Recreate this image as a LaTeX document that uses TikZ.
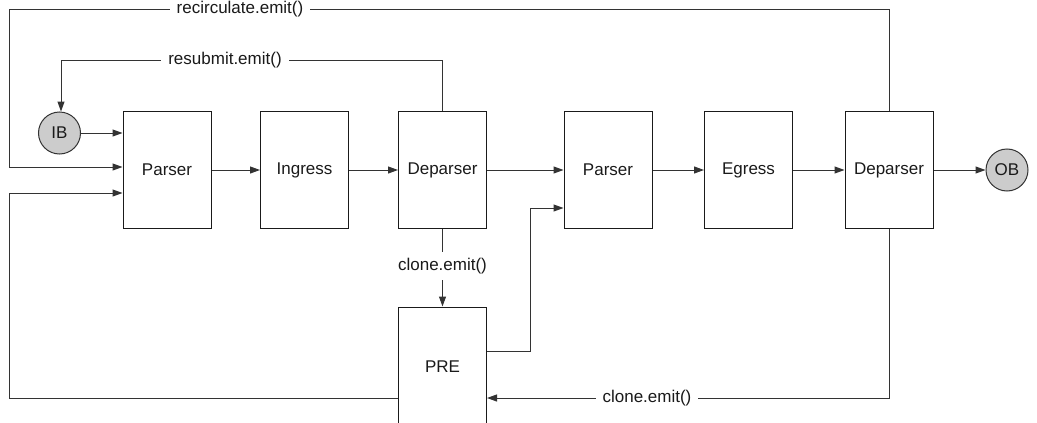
\documentclass[tikz,border=0pt]{standalone}
\usepackage{fontspec}
\setmainfont{Liberation Sans}
\usetikzlibrary{arrows.meta}
\definecolor{wire}{HTML}{333333}
\definecolor{ink}{HTML}{1A1A1A}
\definecolor{bubble}{HTML}{CCCCCC}
\begin{document}
\begin{tikzpicture}[x=1pt,y=-1pt,
  font=\fontsize{17}{20}\selectfont, text=ink,
  stage/.style={draw=ink, line width=1pt, minimum width=88pt, minimum height=117pt, inner sep=0pt},
  port/.style={circle, draw=wire, fill=bubble, line width=1pt, minimum size=42pt, inner sep=0pt},
  wireline/.style={draw=wire, line width=1pt},
  flow/.style={wireline, -{Triangle[length=10pt,width=7pt]}},
  tag/.style={fill=white, inner xsep=7pt, inner ysep=4pt}]
\useasboundingbox (0,0) rectangle (1037,423);

% pipeline stages
\node[stage] (p1)  at (167,170)   {Parser};
\node[stage] (ing) at (304.5,170) {Ingress};
\node[stage] (d1)  at (442.5,170) {Deparser};
\node[stage] (p2)  at (608,170)   {Parser};
\node[stage] (eg)  at (748.5,170) {Egress};
\node[stage] (d2)  at (889,170)   {Deparser};
\node[stage, minimum height=120pt] (pre) at (442.5,367) {PRE};

% input / output buffers
\node[port] (ib) at (59.5,133) {IB};
\node[port] (ob) at (1007,170) {OB};

% routing corners
\coordinate (rcTL) at (9,9);
\coordinate (rsTL) at (61,60);
\coordinate (pbL)  at (9,398);
\coordinate (preJog) at (530,351);
\coordinate (cloneR) at (889,398);

% main forward path
\draw[flow] (ib.east) -- (ib.east -| p1.west);
\draw[flow] (p1) -- (ing);
\draw[flow] (ing) -- (d1);
\draw[flow] (d1) -- (p2);
\draw[flow] (p2) -- (eg);
\draw[flow] (eg) -- (d2);
\draw[flow] (d2) -- (ob);

% recirculation from egress deparser
\draw[flow] (d2.north) |- (rcTL) |- ([yshift=3pt]p1.west);
\node[tag] (rclab) at (240,9) {recirculate.emit()};

% resubmission from ingress deparser
\draw[flow] (d1.north) |- (rsTL) -- (rsTL |- ib.north);
\node[tag] (rslab) at (225,60) {resubmit.emit()};

% ingress clone into PRE
\draw[flow] (d1.south) -- (pre.north);
\node[tag, inner ysep=6pt] (cl1) at (442.5,266) {clone.emit()};

% PRE to egress parser
\draw[flow] (preJog -| pre.east) -- (preJog) |- ([yshift=-38pt]p2.west);

% PRE back to ingress parser
\draw[flow] (pbL -| pre.west) -- (pbL) |- ([yshift=-23pt]p1.west);

% egress clone into PRE
\draw[flow] (d2.south) |- (cloneR -| pre.east);
\node[tag] (cl2) at (647,398) {clone.emit()};
\end{tikzpicture}
\end{document}
